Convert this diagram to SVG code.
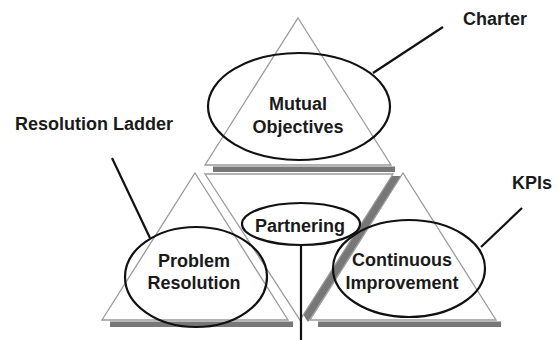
<svg xmlns="http://www.w3.org/2000/svg" width="558" height="340" viewBox="0 0 558 340">
<style>
.tri{fill:#fff;stroke:#9a9a9a;stroke-width:1.3}
.sh{fill:#777}
.ell{fill:none;stroke:#111;stroke-width:2.2}
.t{font-family:"Liberation Sans",Arial,sans-serif;font-weight:bold;font-size:18px;fill:#1a1a1a;text-anchor:middle}
.l{font-family:"Liberation Sans",Arial,sans-serif;font-weight:bold;font-size:18px;fill:#1a1a1a}
.c{stroke:#111;stroke-width:2.2;fill:none}
</style>
<rect width="558" height="340" fill="#fff"/>
<g id="shadows">
<rect class="sh" x="213" y="166.5" width="182" height="5.5"/>
<rect class="sh" x="110" y="321.5" width="183" height="5.5"/>
<rect class="sh" x="318" y="321.5" width="183" height="5.5"/>
<polygon class="sh" points="213,176 401,176 308,322"/>
</g>
<g id="triangles">
<polygon class="tri" points="298,18 391,165 205,165"/>
<polygon class="tri" points="195,173 288,320 102,320"/>
<polygon class="tri" points="403,173 496,320 310,320"/>
<polygon class="tri" points="205,174 393,174 300,320"/>
</g>
<g id="connectors">
<line class="c" x1="443" y1="27" x2="373" y2="73"/>
<line class="c" x1="112" y1="158" x2="150" y2="238"/>
<line class="c" x1="522" y1="208" x2="481" y2="247"/>
<line class="c" x1="301" y1="245" x2="301" y2="340"/>
</g>
<g id="mutual-objectives">
<ellipse class="ell" cx="299" cy="106.5" rx="91" ry="53.5"/>
<text class="t" x="298" y="110">Mutual</text>
<text class="t" x="298" y="133">Objectives</text>
</g>
<g id="problem-resolution">
<ellipse class="ell" cx="196" cy="277" rx="71" ry="50"/>
<text class="t" x="194" y="267">Problem</text>
<text class="t" x="194" y="289">Resolution</text>
</g>
<g id="partnering">
<ellipse class="ell" cx="301" cy="224" rx="59" ry="21"/>
<text class="t" x="300" y="232">Partnering</text>
</g>
<g id="continuous-improvement">
<ellipse class="ell" cx="409" cy="268.5" rx="76" ry="48.5"/>
<text class="t" x="402" y="266">Continuous</text>
<text class="t" x="402" y="289">Improvement</text>
</g>
<g id="charter"><text class="l" x="463" y="25">Charter</text></g>
<g id="resolution-ladder"><text class="l" x="15" y="130">Resolution Ladder</text></g>
<g id="kpis"><text class="l" x="512" y="189">KPIs</text></g>
</svg>
